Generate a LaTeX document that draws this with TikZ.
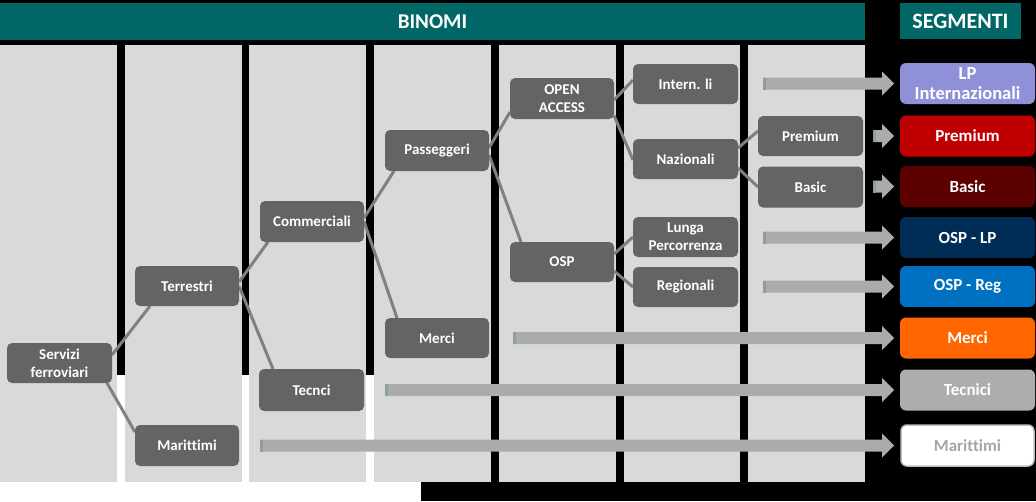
\documentclass[tikz,border=0pt]{standalone}
\usepackage{fontspec}
\setmainfont{Carlito}[Ligatures={NoCommon}]
\usetikzlibrary{calc}
\pgfdeclarelayer{bg}
\pgfdeclarelayer{lines}
\pgfsetlayers{bg,lines,main}
\definecolor{teal}{RGB}{0,102,102}
\definecolor{colgray}{RGB}{217,217,217}
\definecolor{boxgray}{RGB}{100,100,100}
\definecolor{linegray}{RGB}{128,128,128}
\definecolor{arrgray}{RGB}{170,172,172}
\definecolor{arrdark}{RGB}{140,158,158}
\definecolor{lpcol}{RGB}{144,144,216}
\definecolor{premcol}{RGB}{192,0,0}
\definecolor{basiccol}{RGB}{92,0,0}
\definecolor{osplpcol}{RGB}{0,45,85}
\definecolor{ospregcol}{RGB}{0,112,192}
\definecolor{mercicol}{RGB}{255,102,0}
\definecolor{teccol}{RGB}{173,173,173}
\definecolor{marborder}{RGB}{190,190,190}
\definecolor{martext}{RGB}{166,166,166}
\tikzset{
  box/.style={draw=none, fill=boxgray, rounded corners=5pt, inner sep=0pt, outer sep=0pt,
    minimum width=104pt, minimum height=40pt, text=white, align=center,
    font=\fontsize{15}{18}\selectfont\bfseries},
  seg/.style={draw=none, rounded corners=6pt, inner sep=0pt, outer sep=0pt,
    minimum width=135pt, minimum height=41pt, text=white, align=center,
    font=\fontsize{17}{19}\selectfont\bfseries},
  conn/.style={draw=linegray, line width=3pt},
  colpanel/.style={fill=colgray},
  header/.style={fill=teal, inner sep=0pt, outer sep=0pt, text=white,
    font=\fontsize{21}{24}\selectfont\bfseries},
}
\newcommand\blockarr[2]{%
  \fill[arrgray] let \p1=(#1), \p2=(#2) in
    (\x1,\y2+6pt) -- (\x2-12pt,\y2+6pt) -- (\x2-12pt,\y2+12pt) -- (\x2,\y2)
    -- (\x2-12pt,\y2-12pt) -- (\x2-12pt,\y2-6pt) -- (\x1,\y2-6pt) -- cycle;
  \fill[arrdark] let \p1=(#1), \p2=(#2) in
    (\x1,\y2+6pt) rectangle (\x1+3pt,\y2-6pt);}
\begin{document}
\begin{tikzpicture}[x=1pt,y=-1pt]
\useasboundingbox (0,0) rectangle (1036,501);
\begin{pgfonlayer}{bg}
  \fill[black] (0,0) rectangle (1036,501);
  \fill[white] (0,375) rectangle (375,482);
  \fill[white] (0,482) rectangle (421,501);
  \fill[colpanel] (0,45) rectangle (117,482);
  \fill[colpanel] (125,45) rectangle (242,482);
  \fill[colpanel] (249,45) rectangle (366,482);
  \fill[colpanel] (374,45) rectangle (491,482);
  \fill[colpanel] (499,45) rectangle (616,482);
  \fill[colpanel] (624,45) rectangle (740,482);
  \fill[colpanel] (748,45) rectangle (865,482);
\end{pgfonlayer}
% headers
\node[header, minimum width=865pt, minimum height=37pt] (binomi) at (432.5,21.5) {BINOMI};
\node[header, minimum width=121pt, minimum height=36pt, font=\fontsize{22}{24}\selectfont\bfseries] (segm) at (960.5,21) {SEGMENTI};
% tree nodes
\node[box, minimum width=105pt] (serv) at (59.5,363) {Servizi\\ferroviari};
\node[box] (terr) at (187,286) {Terrestri};
\node[box, minimum height=41pt] (mar) at (187,445.5) {Marittimi};
\node[box, minimum height=41pt] (comm) at (312,221.5) {Commerciali};
\node[box, minimum width=105pt, minimum height=42pt] (tec) at (311.5,390) {Tecnci};
\node[box, minimum height=41pt] (pass) at (437,150.5) {Passeggeri};
\node[box] (merci) at (437,338) {Merci};
\node[box, minimum height=41pt] (oa) at (562,98.5) {OPEN\\ACCESS};
\node[box] (osp) at (562,262) {OSP};
\node[box, minimum width=105pt] (intern) at (685.5,84) {Intern. li};
\node[box, minimum width=105pt] (naz) at (685.5,159) {Nazionali};
\node[box, minimum width=105pt] (lunga) at (685.5,237) {Lunga\\Percorrenza};
\node[box, minimum width=105pt] (reg) at (685.5,287) {Regionali};
\node[box, minimum width=105pt] (prem) at (810.5,136) {Premium};
\node[box, minimum width=105pt, minimum height=41pt] (basic) at (810.5,187) {Basic};
% segments
\node[seg, fill=lpcol, font=\fontsize{18.5}{19.5}\selectfont\bfseries] (slp) at (967.5,83.5) {LP\\Internazionali};
\node[seg, fill=premcol] (sprem) at (967.5,136) {Premium};
\node[seg, fill=basiccol] (sbasic) at (967.5,186.5) {Basic};
\node[seg, fill=osplpcol] (sosplp) at (967.5,237.5) {OSP - LP};
\node[seg, fill=ospregcol] (sospreg) at (967.5,286.5) {OSP - Reg};
\node[seg, fill=mercicol] (smerci) at (967.5,338) {Merci};
\node[seg, fill=teccol] (stec) at (967.5,390) {Tecnici};
\node[seg, fill=white, draw=marborder, line width=1.5pt, text=martext, minimum width=133pt, minimum height=41pt] (smar) at (967.5,445.5) {Marittimi};
% connectors
\begin{pgfonlayer}{lines}
  \draw[conn] ([yshift=8pt]serv.east) -- ([xshift=-37pt]terr.south);
  \draw[conn] ([xshift=-5pt]serv.south east) -- ([yshift=13.5pt]mar.west);
  \draw[conn] ([yshift=4pt]terr.east) -- ([xshift=-44pt]comm.south);
  \draw[conn] (terr.east) -- ([xshift=-38.5pt]tec.north);
  \draw[conn] ([yshift=3.5pt]comm.east) -- ([xshift=-43pt]pass.south);
  \draw[conn] (comm.east) -- ([xshift=-40pt]merci.north);
  \draw[conn] ([yshift=2.5pt]pass.east) -- ([yshift=-13.5pt]oa.west);
  \draw[conn] ([yshift=-4.5pt]pass.east) -- ([xshift=-41pt]osp.north);
  \draw[conn] ([yshift=-1.5pt]oa.east) -- ([yshift=4pt]intern.west);
  \draw[conn] ([yshift=-17pt]oa.east) -- ([yshift=-1pt]naz.west);
  \draw[conn] ([yshift=11pt]naz.east) -- ([yshift=5pt]prem.west);
  \draw[conn] ([yshift=-9pt]naz.east) -- (basic.west);
  \draw[conn] ([yshift=8pt]osp.east) -- (lunga.west);
  \draw[conn] ([yshift=-9pt]osp.east) -- (reg.west);
\end{pgfonlayer}
% block arrows
\coordinate (a1) at (763,84);  \coordinate (t1) at ([xshift=-6pt]slp.west);
\coordinate (a2) at (873,136); \coordinate (t2) at ([xshift=-6pt]sprem.west);
\coordinate (a3) at (873,187); \coordinate (t3) at ([xshift=-6pt]sbasic.west);
\coordinate (a4) at (763,238); \coordinate (t4) at ([xshift=-6pt]sosplp.west);
\coordinate (a5) at (763,287); \coordinate (t5) at ([xshift=-6pt]sospreg.west);
\coordinate (a6) at (513,338); \coordinate (t6) at ([xshift=-6pt]smerci.west);
\coordinate (a7) at (385,390); \coordinate (t7) at ([xshift=-6pt]stec.west);
\coordinate (a8) at (260,445); \coordinate (t8) at ([xshift=-7pt]smar.west);
\blockarr{a1}{t1}
\blockarr{a2}{t2}
\blockarr{a3}{t3}
\blockarr{a4}{t4}
\blockarr{a5}{t5}
\blockarr{a6}{t6}
\blockarr{a7}{t7}
\blockarr{a8}{t8}
\end{tikzpicture}
\end{document}
